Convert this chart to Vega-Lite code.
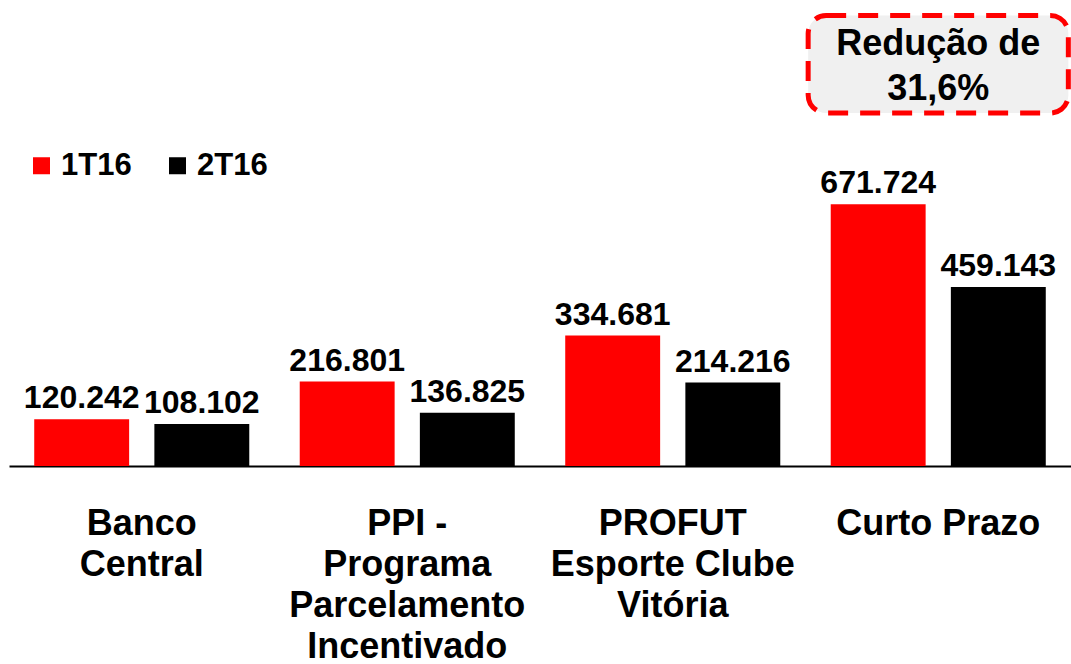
{
  "$schema": "https://vega.github.io/schema/vega-lite/v6.json",
  "width": 1062,
  "height": 466,
  "autosize": {"type": "none"},
  "padding": {"left": 9, "top": 0, "right": 0, "bottom": 198},
  "background": "white",
  "config": {
    "view": {"stroke": null},
    "font": "Liberation Sans"
  },
  "data": {
    "values": [
      {"kind": "bar", "category": "Banco Central", "period": "1T16", "value": 120.242},
      {"kind": "bar", "category": "Banco Central", "period": "2T16", "value": 108.102},
      {"kind": "bar", "category": "PPI - Programa Parcelamento Incentivado", "period": "1T16", "value": 216.801},
      {"kind": "bar", "category": "PPI - Programa Parcelamento Incentivado", "period": "2T16", "value": 136.825},
      {"kind": "bar", "category": "PROFUT Esporte Clube Vitória", "period": "1T16", "value": 334.681},
      {"kind": "bar", "category": "PROFUT Esporte Clube Vitória", "period": "2T16", "value": 214.216},
      {"kind": "bar", "category": "Curto Prazo", "period": "1T16", "value": 671.724},
      {"kind": "bar", "category": "Curto Prazo", "period": "2T16", "value": 459.143},
      {"kind": "note", "category": "Curto Prazo", "top": 1156, "bottom": 906, "textpos": 1055, "text": "Redução de\n31,6%"}
    ]
  },
  "encoding": {
    "x": {
      "field": "category",
      "type": "nominal",
      "scale": {
        "domain": ["Banco Central", "PPI - Programa Parcelamento Incentivado", "PROFUT Esporte Clube Vitória", "Curto Prazo"],
        "paddingInner": 0,
        "paddingOuter": 0
      },
      "axis": {
        "title": null,
        "labelAngle": 0,
        "ticks": false,
        "tickSize": 0,
        "domain": true,
        "domainColor": "#000000",
        "domainWidth": 2,
        "grid": false,
        "labelFontSize": 36,
        "labelFontWeight": "bold",
        "labelColor": "#000000",
        "labelLineHeight": 41,
        "labelPadding": 40,
        "labelBaseline": "top",
        "labelLimit": 0,
        "labelOverlap": false,
        "labelExpr": "datum.value == 'Banco Central' ? ['Banco', 'Central'] : datum.value == 'Curto Prazo' ? ['Curto Prazo'] : indexof(datum.value, 'PPI') == 0 ? ['PPI -', 'Programa', 'Parcelamento', 'Incentivado'] : ['PROFUT', 'Esporte Clube', 'Vitória']"
      }
    }
  },
  "layer": [
    {
      "transform": [{"filter": "datum.kind == 'note'"}],
      "mark": {
        "type": "bar",
        "width": {"band": 0.98},
        "fill": "#F0F0F0",
        "stroke": "#FF0000",
        "strokeWidth": 5,
        "strokeDash": [20, 12],
        "cornerRadius": 18
      },
      "encoding": {
        "y": {"field": "top", "type": "quantitative", "scale": {"domain": [0, 1196], "nice": false}, "axis": null},
        "y2": {"field": "bottom"}
      }
    },
    {
      "transform": [{"filter": "datum.kind == 'note'"}],
      "mark": {
        "type": "text",
        "fontSize": 36,
        "fontWeight": "bold",
        "color": "#000000",
        "align": "center",
        "baseline": "alphabetic",
        "lineBreak": "\n",
        "lineHeight": 45
      },
      "encoding": {
        "y": {"field": "textpos", "type": "quantitative"},
        "text": {"field": "text"}
      }
    },
    {
      "transform": [{"filter": "datum.kind == 'bar'"}],
      "mark": {"type": "bar"},
      "encoding": {
        "xOffset": {
          "field": "period",
          "type": "nominal",
          "scale": {"paddingInner": 0.21, "paddingOuter": 0.21}
        },
        "y": {"field": "value", "type": "quantitative"},
        "color": {
          "field": "period",
          "type": "nominal",
          "scale": {"domain": ["1T16", "2T16"], "range": ["#FF0000", "#000000"]},
          "legend": {
            "title": null,
            "orient": "none",
            "legendX": 17,
            "legendY": 150,
            "direction": "horizontal",
            "symbolType": "square",
            "symbolSize": 289,
            "symbolStrokeWidth": 0,
            "labelFontSize": 31,
            "labelFontWeight": "bold",
            "labelColor": "#000000",
            "labelOffset": 4,
            "columnPadding": 30,
            "padding": 0
          }
        }
      }
    },
    {
      "transform": [{"filter": "datum.kind == 'bar'"}],
      "mark": {
        "type": "text",
        "fontSize": 32,
        "fontWeight": "bold",
        "color": "#000000",
        "align": "center",
        "baseline": "alphabetic",
        "dy": -11
      },
      "encoding": {
        "xOffset": {"field": "period", "type": "nominal"},
        "y": {"field": "value", "type": "quantitative"},
        "text": {"field": "value", "type": "quantitative", "format": ".3f"}
      }
    }
  ]
}
